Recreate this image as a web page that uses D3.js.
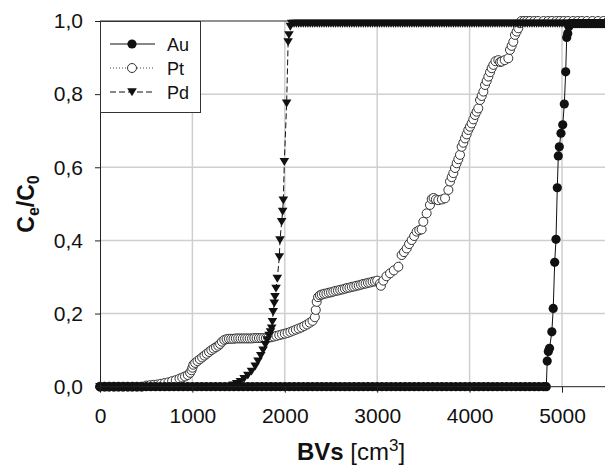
<!DOCTYPE html>
<html>
<head>
<meta charset="utf-8">
<script src="https://cdn.jsdelivr.net/npm/d3@7"></script>
<style>
  body { margin: 0; background: #fff; }
  svg { display: block; font-family: "Liberation Sans", Arial, sans-serif; }
</style>
</head>
<body>
<div id="svg-container"></div>
<script>
// DATA (BV in cm3, C/C0)
const xTicks = [0, 1000, 2000, 3000, 4000, 5000]
const yTicks = [0, 0.2, 0.4, 0.6, 0.8, 1.0]
const seriesNames = ["Au", "Pt", "Pd"]

const auBV = [
  0, 50, 100, 150, 200, 250, 300, 350, 400, 450,
  500, 550, 600, 650, 700, 750, 800, 850, 900, 950,
  1000, 1050, 1100, 1150, 1200, 1250, 1300, 1350, 1400, 1450,
  1500, 1550, 1600, 1650, 1700, 1750, 1800, 1850, 1900, 1950,
  2000, 2050, 2100, 2150, 2200, 2250, 2300, 2350, 2400, 2450,
  2500, 2550, 2600, 2650, 2700, 2750, 2800, 2850, 2900, 2950,
  3000, 3050, 3100, 3150, 3200, 3250, 3300, 3350, 3400, 3450,
  3500, 3550, 3600, 3650, 3700, 3750, 3800, 3850, 3900, 3950,
  4000, 4050, 4100, 4150, 4200, 4250, 4300, 4350, 4400, 4450,
  4500, 4550, 4600, 4650, 4700, 4750, 4800, 4830,
  4840, 4852, 4865, 4890, 4905, 4921, 4935, 4949, 4960, 4971,
  4989, 5008, 5025, 5040, 5051, 5062, 5075,
  5090, 5115, 5140, 5165, 5190, 5215, 5240, 5265, 5290, 5315,
  5340, 5365, 5390, 5415, 5440, 5465, 5490
]
const auC = [
  0, 0, 0, 0, 0, 0, 0, 0, 0, 0,
  0, 0, 0, 0, 0, 0, 0, 0, 0, 0,
  0, 0, 0, 0, 0, 0, 0, 0, 0, 0,
  0, 0, 0, 0, 0, 0, 0, 0, 0, 0,
  0, 0, 0, 0, 0, 0, 0, 0, 0, 0,
  0, 0, 0, 0, 0, 0, 0, 0, 0, 0,
  0, 0, 0, 0, 0, 0, 0, 0, 0, 0,
  0, 0, 0, 0, 0, 0, 0, 0, 0, 0,
  0, 0, 0, 0, 0, 0, 0, 0, 0, 0,
  0, 0, 0, 0, 0, 0, 0, 0,
  0.07, 0.096, 0.105, 0.15, 0.214, 0.34, 0.403, 0.544, 0.631, 0.656,
  0.693, 0.716, 0.773, 0.861, 0.955, 0.966, 0.985,
  0.993, 0.993, 0.993, 0.993, 0.993, 0.993, 0.993, 0.993, 0.993, 0.993,
  0.993, 0.993, 0.993, 0.993, 0.993, 0.993, 0.993
]

const ptBV = [
  0, 50, 100, 150, 200, 250, 300, 350, 400, 450,
  500, 540, 580, 620, 660, 700, 740, 780, 820, 860,
  890, 920, 950, 975, 990, 1000, 1010, 1030, 1055, 1080,
  1105, 1130, 1155, 1180, 1205, 1230, 1255, 1280, 1300, 1320,
  1345, 1370,
  1395, 1420, 1445, 1470, 1495, 1520, 1545, 1570, 1595, 1620,
  1645, 1670, 1695, 1720, 1745, 1770, 1795, 1820,
  1850, 1880, 1910, 1940, 1970, 2000, 2030, 2060, 2090, 2120,
  2150, 2180, 2210, 2240, 2270, 2300, 2325, 2335, 2345, 2360,
  2380,
  2400, 2425, 2450, 2475, 2500, 2525, 2550, 2575, 2600, 2625,
  2650, 2675, 2700, 2725, 2750, 2775, 2800, 2825, 2850, 2875,
  2900, 2925, 2950, 2975, 3000,
  3030, 3040, 3066, 3100, 3139, 3180, 3229, 3265, 3290, 3319,
  3345, 3373, 3400, 3427, 3455, 3481, 3499, 3535, 3571, 3590,
  3610, 3635, 3661, 3700, 3734, 3770, 3788, 3806, 3824, 3842,
  3860, 3878, 3896, 3914, 3932, 3950, 3968, 3986, 4004, 4022,
  4040, 4058, 4076, 4094, 4113, 4131, 4149, 4167, 4185, 4203,
  4221, 4239, 4257, 4280, 4311, 4330, 4347, 4380, 4419, 4437,
  4455, 4473, 4491, 4509, 4527, 4545,
  4560, 4590, 4620, 4654, 4700, 4740, 4800, 4850, 4892, 4940,
  4978, 5020, 5065, 5120, 5170, 5216, 5270, 5330, 5390, 5450,
  5500
]
const ptC = [
  0, 0, 0, 0, 0, 0, 0, 0, 0, 0,
  0.003, 0.004, 0.005, 0.006, 0.008, 0.01, 0.012, 0.015, 0.018, 0.022,
  0.025, 0.028, 0.032, 0.038, 0.045, 0.052, 0.06, 0.065, 0.07, 0.075,
  0.08, 0.085, 0.09, 0.095, 0.1, 0.104, 0.108, 0.112, 0.117, 0.123,
  0.128, 0.13,
  0.131, 0.131, 0.131, 0.132, 0.132, 0.132, 0.132, 0.132, 0.132, 0.132,
  0.132, 0.133, 0.133, 0.133, 0.133, 0.133, 0.133, 0.134,
  0.135, 0.137, 0.139, 0.141, 0.143, 0.145, 0.147, 0.15, 0.153, 0.156,
  0.159, 0.162, 0.166, 0.17, 0.175, 0.18, 0.19, 0.21, 0.232, 0.245,
  0.25,
  0.252, 0.254, 0.255, 0.257, 0.258, 0.26, 0.262, 0.263, 0.265, 0.266,
  0.268, 0.27, 0.271, 0.273, 0.274, 0.276, 0.277, 0.279, 0.281, 0.282,
  0.284, 0.285, 0.287, 0.288, 0.29,
  0.282, 0.276, 0.29, 0.302, 0.31, 0.318, 0.328, 0.36, 0.368, 0.378,
  0.39, 0.401, 0.412, 0.424, 0.428, 0.43, 0.451, 0.474, 0.497, 0.513,
  0.516, 0.512, 0.51, 0.512, 0.515, 0.538, 0.561, 0.573, 0.584, 0.598,
  0.611, 0.622, 0.634, 0.656, 0.667, 0.679, 0.69, 0.702, 0.711, 0.72,
  0.731, 0.743, 0.752, 0.761, 0.784, 0.795, 0.807, 0.825, 0.836, 0.848,
  0.86, 0.871, 0.88, 0.89, 0.893, 0.888, 0.889, 0.893, 0.898, 0.921,
  0.932, 0.943, 0.962, 0.971, 0.98, 0.994,
  1, 1, 1, 1, 1, 1, 1, 1, 1, 1,
  1, 1, 1, 1, 1, 1, 1, 1, 1, 1,
  1
]

const pdBV = [
  0, 50, 100, 150, 200, 250, 300, 350, 400, 450,
  500, 550, 600, 650, 700, 750, 800, 850, 900, 950,
  1000, 1050, 1100, 1150, 1200, 1250, 1300, 1350, 1400,
  1440, 1480, 1520, 1560, 1600, 1640, 1680, 1710, 1740, 1765,
  1790, 1810, 1830, 1845, 1858, 1866, 1874, 1886, 1894, 1905,
  1919, 1941, 1948, 1966, 1977, 1984, 1995, 2020, 2036, 2045,
  2060, 2075,
  2100, 2125, 2150, 2175, 2200, 2225, 2250, 2275, 2300, 2325,
  2350, 2375, 2400, 2425, 2450, 2475, 2500, 2525, 2550, 2575,
  2600, 2625, 2650, 2675, 2700, 2725, 2750, 2775, 2800, 2825,
  2850, 2875, 2900, 2925, 2950, 2975, 3000, 3025, 3050, 3075,
  3100, 3125, 3150, 3175, 3200, 3225, 3250, 3275, 3300, 3325,
  3350, 3375, 3400, 3425, 3450, 3475, 3500, 3525, 3550, 3575,
  3600, 3625, 3650, 3675, 3700, 3725, 3750, 3775, 3800, 3825,
  3850, 3875, 3900, 3925, 3950, 3975, 4000, 4025, 4050, 4075,
  4100, 4125, 4150, 4175, 4200, 4225, 4250, 4275, 4300, 4325,
  4350, 4375, 4400, 4425, 4450, 4475, 4500, 4525, 4550, 4575,
  4600, 4625, 4650, 4675, 4700, 4725, 4750, 4775, 4800, 4825,
  4850, 4875, 4900, 4925, 4950, 4975, 5000, 5025, 5050, 5075,
  5100, 5125, 5150, 5175, 5200, 5225, 5250, 5275, 5300, 5325,
  5350, 5375, 5400, 5425, 5450, 5475, 5500
]
const pdC = [
  0, 0, 0, 0, 0, 0, 0, 0, 0, 0,
  0, 0, 0, 0, 0, 0, 0, 0, 0, 0,
  0, 0, 0, 0, 0, 0, 0, 0, 0,
  0.004, 0.008, 0.014, 0.022, 0.031, 0.042, 0.056, 0.07, 0.085, 0.1,
  0.115, 0.128, 0.14, 0.15, 0.16, 0.178, 0.205, 0.228, 0.246, 0.269,
  0.296, 0.355, 0.401, 0.451, 0.479, 0.51, 0.615, 0.775, 0.943, 0.962,
  0.985, 0.993,
  0.993, 0.993, 0.993, 0.993, 0.993, 0.993, 0.993, 0.993, 0.993, 0.993,
  0.993, 0.993, 0.993, 0.993, 0.993, 0.993, 0.993, 0.993, 0.993, 0.993,
  0.993, 0.993, 0.993, 0.993, 0.993, 0.993, 0.993, 0.993, 0.993, 0.993,
  0.993, 0.993, 0.993, 0.993, 0.993, 0.993, 0.993, 0.993, 0.993, 0.993,
  0.993, 0.993, 0.993, 0.993, 0.993, 0.993, 0.993, 0.993, 0.993, 0.993,
  0.993, 0.993, 0.993, 0.993, 0.993, 0.993, 0.993, 0.993, 0.993, 0.993,
  0.993, 0.993, 0.993, 0.993, 0.993, 0.993, 0.993, 0.993, 0.993, 0.993,
  0.993, 0.993, 0.993, 0.993, 0.993, 0.993, 0.993, 0.993, 0.993, 0.993,
  0.993, 0.993, 0.993, 0.993, 0.993, 0.993, 0.993, 0.993, 0.993, 0.993,
  0.993, 0.993, 0.993, 0.993, 0.993, 0.993, 0.993, 0.993, 0.993, 0.993,
  0.993, 0.993, 0.993, 0.993, 0.993, 0.993, 0.993, 0.993, 0.993, 0.993,
  0.993, 0.993, 0.993, 0.993, 0.993, 0.993, 0.993, 0.993, 0.993, 0.993,
  0.993, 0.993, 0.993, 0.993, 0.993, 0.993, 0.993, 0.993, 0.993, 0.993,
  0.993, 0.993, 0.993, 0.993, 0.993, 0.993, 0.993
]

const width = 605
const height = 465

const svg = d3
  .select("#svg-container")
  .append("svg")
  .attr("width", width)
  .attr("height", height)
  .attr("viewBox", [0, 0, width, height])

const xScale = d3.scaleLinear().domain([0, 5500]).range([100, 608.2])
const yScale = d3.scaleLinear().domain([0, 1]).range([386.7, 21])

const commaFmt = d3.formatLocale({
  decimal: ",",
  thousands: "",
  grouping: [3],
  currency: ["", ""]
}).format(".1f")

// GRID
svg
  .append("g")
  .selectAll("line")
  .data(xTicks.filter((d) => d > 0))
  .join("line")
  .attr("x1", (d) => xScale(d))
  .attr("x2", (d) => xScale(d))
  .attr("y1", yScale(0))
  .attr("y2", yScale(1))
  .attr("stroke", "#cfcfcf")
  .attr("stroke-width", 1.5)

svg
  .append("g")
  .selectAll("line")
  .data(yTicks.filter((d) => d > 0 && d < 1))
  .join("line")
  .attr("x1", xScale(0))
  .attr("x2", width)
  .attr("y1", (d) => yScale(d))
  .attr("y2", (d) => yScale(d))
  .attr("stroke", "#cfcfcf")
  .attr("stroke-width", 1.5)

// top frame
svg
  .append("line")
  .attr("x1", xScale(0))
  .attr("x2", width)
  .attr("y1", yScale(1))
  .attr("y2", yScale(1))
  .attr("stroke", "#222")
  .attr("stroke-width", 1)

const au = d3.zip(auBV, auC)
const pt = d3.zip(ptBV, ptC)
const pd = d3.zip(pdBV, pdC)

const lineGen = d3
  .line()
  .x((d) => xScale(d[0]))
  .y((d) => yScale(d[1]))

const triangle = "M-4.8,-3.7L4.8,-3.7L0,4.2Z"

// Pt
svg
  .append("path")
  .attr("d", lineGen(pt))
  .attr("fill", "none")
  .attr("stroke", "#444")
  .attr("stroke-width", 1)
  .attr("stroke-dasharray", "1,2")

svg
  .append("g")
  .selectAll("circle")
  .data(pt)
  .join("circle")
  .attr("cx", (d) => xScale(d[0]))
  .attr("cy", (d) => yScale(d[1]))
  .attr("r", 4.5)
  .attr("fill", "#fff")
  .attr("stroke", "#333")
  .attr("stroke-width", 1)

// Pd
svg
  .append("path")
  .attr("d", lineGen(pd))
  .attr("fill", "none")
  .attr("stroke", "#111")
  .attr("stroke-width", 1)
  .attr("stroke-dasharray", "6,3")

svg
  .append("g")
  .selectAll("path")
  .data(pd)
  .join("path")
  .attr("d", triangle)
  .attr("transform", (d) => `translate(${xScale(d[0])},${yScale(d[1])})`)
  .attr("fill", "#111")

// Au
svg
  .append("path")
  .attr("d", lineGen(au))
  .attr("fill", "none")
  .attr("stroke", "#111")
  .attr("stroke-width", 1)

svg
  .append("g")
  .selectAll("circle")
  .data(au)
  .join("circle")
  .attr("cx", (d) => xScale(d[0]))
  .attr("cy", (d) => yScale(d[1]))
  .attr("r", 4.6)
  .attr("fill", "#111")

// AXES
const xAxis = svg
  .append("g")
  .attr("transform", `translate(0,${yScale(0)})`)
  .call(
    d3
      .axisBottom(xScale)
      .tickValues(xTicks)
      .tickFormat(d3.format("d"))
      .tickSizeInner(6)
      .tickSizeOuter(0)
      .tickPadding(15)
  )
xAxis.select(".domain").attr("stroke", "#222").attr("d", `M${xScale(0)},0H${width}`)
xAxis.selectAll(".tick line").attr("stroke", "#222")
xAxis
  .selectAll(".tick text")
  .attr("fill", "#111")
  .style("font-size", "21px")
  .style("font-family", "'Liberation Sans', Arial, sans-serif")

const yAxis = svg
  .append("g")
  .attr("transform", `translate(${xScale(0)},0)`)
  .call(
    d3
      .axisLeft(yScale)
      .tickValues(yTicks)
      .tickFormat(commaFmt)
      .tickSizeInner(5)
      .tickSizeOuter(0)
      .tickPadding(12)
  )
yAxis.select(".domain").attr("stroke", "#222")
yAxis.selectAll(".tick line").attr("stroke", "#222")
yAxis
  .selectAll(".tick text")
  .attr("fill", "#111")
  .style("font-size", "21px")
  .style("font-family", "'Liberation Sans', Arial, sans-serif")

// AXIS TITLES
const xTitle = svg
  .append("text")
  .attr("x", 351)
  .attr("y", 460)
  .attr("text-anchor", "middle")
  .attr("fill", "#111")
  .style("font-size", "24px")
xTitle.append("tspan").attr("font-weight", "bold").text("BVs")
xTitle.append("tspan").text(" [cm")
xTitle.append("tspan").attr("dy", -9).style("font-size", "17px").text("3")
xTitle.append("tspan").attr("dy", 9).text("]")

const yTitle = svg
  .append("text")
  .attr("transform", "translate(34,204) rotate(-90)")
  .attr("text-anchor", "middle")
  .attr("fill", "#111")
  .attr("font-weight", "bold")
  .style("font-size", "23px")
yTitle.append("tspan").text("C")
yTitle.append("tspan").attr("dy", 5).style("font-size", "16px").text("e")
yTitle.append("tspan").attr("dy", -5).text("/C")
yTitle.append("tspan").attr("dy", 5).style("font-size", "16px").text("0")

// LEGEND
const legend = svg.append("g")
legend
  .append("rect")
  .attr("x", 100.5)
  .attr("y", 21.5)
  .attr("width", 100)
  .attr("height", 91)
  .attr("fill", "#fff")
  .attr("stroke", "#333")
  .attr("stroke-width", 1)

const legendY = d3.scalePoint().domain(seriesNames).range([44, 92])
const dashes = { Au: null, Pt: "1,2", Pd: "6,3" }

seriesNames.forEach((name) => {
  const y = legendY(name)
  legend
    .append("line")
    .attr("x1", 110)
    .attr("x2", 155)
    .attr("y1", y)
    .attr("y2", y)
    .attr("stroke", name === "Pt" ? "#444" : "#111")
    .attr("stroke-width", 1)
    .attr("stroke-dasharray", dashes[name])
  if (name === "Au") {
    legend.append("circle").attr("cx", 132).attr("cy", y).attr("r", 4.6).attr("fill", "#111")
  } else if (name === "Pt") {
    legend
      .append("circle")
      .attr("cx", 132)
      .attr("cy", y)
      .attr("r", 4.5)
      .attr("fill", "#fff")
      .attr("stroke", "#333")
  } else {
    legend
      .append("path")
      .attr("d", triangle)
      .attr("transform", `translate(132,${y})`)
      .attr("fill", "#111")
  }
  legend
    .append("text")
    .attr("x", 167)
    .attr("y", y + 6.5)
    .attr("fill", "#111")
    .style("font-size", "18px")
    .text(name)
})
</script>
</body>
</html>
